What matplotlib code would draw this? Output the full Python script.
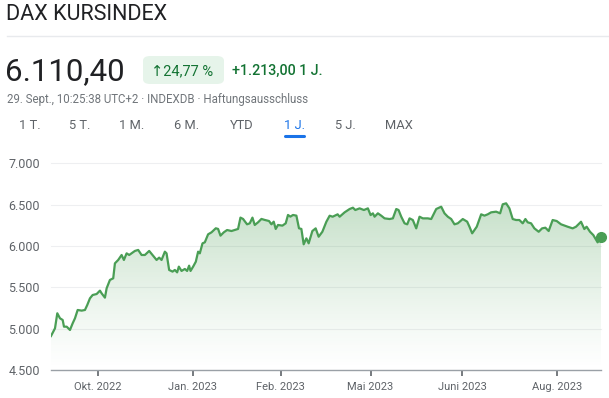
import matplotlib.pyplot as plt
import numpy as np
from matplotlib.patches import FancyBboxPatch

plt.rcParams['font.family'] = ['Roboto', 'DejaVu Sans']

# Zeitachse (0 = Start, 551 = letzter Kurs) und Kurswerte
t = [0, 4, 6.3, 9, 11.7, 13, 15.7, 19, 21.7, 24, 26.7, 30.7, 34, 36.3, 39, 41.7,
     45.7, 49, 50.7, 54, 55.7, 59, 62.3, 64, 67.3, 70.7, 73, 75.7, 78.3, 80.7,
     84, 87.3, 90.7, 94, 98.3, 103, 105.7, 108.3, 110.7, 114, 115.7, 118.3,
     121.7, 124, 126.3, 128, 130.7, 134, 136.3, 138.3, 139.7, 142.3, 145,
     147.3, 149, 151.7, 154, 157.3, 160.7, 165, 167.3, 169.7, 173, 176.3,
     180.7, 184, 187.3, 189.7, 192.3, 196.3, 199, 201.7, 204, 207.3, 210.7,
     214, 218.3, 220.7, 223, 225, 227.3, 231.7, 235, 237.3, 239.7, 242.3,
     245.7, 248.3, 250.7, 253, 255.7, 258, 261.7, 265, 268, 271.7, 275.7,
     279, 282, 287, 289, 294, 299, 302.3, 304.7, 309, 313.3, 317.3, 320,
     322.3, 324, 327.3, 330.7, 334, 339, 342.3, 345.7, 348, 350.7, 354, 356.7,
     359, 362.3, 365.7, 369, 372.3, 377.3, 380.7, 385.7, 390.7, 394, 397.3,
     400.7, 404, 407.3, 412.3, 416.7, 419, 421.7, 426.3, 430.7, 434, 437.3,
     440.7, 445.7, 449.7, 452.3, 455.7, 459, 462.3, 465.7, 469, 472.3, 475,
     477.3, 480.7, 484, 488.3, 491.7, 495, 498.3, 502.3, 506.3, 510.7, 517.3,
     522.3, 525.7, 530.7, 534, 536.3, 539.7, 543, 547.3, 550.7]
kurs = [4911, 5004, 5186, 5125, 5105, 5024, 5024, 4984, 5065, 5125, 5226, 5218,
        5226, 5286, 5367, 5407, 5419, 5460, 5427, 5375, 5488, 5589, 5609, 5790,
        5831, 5891, 5831, 5911, 5891, 5911, 5940, 5952, 5891, 5891, 5940, 5871,
        5831, 5859, 5831, 5931, 5911, 5710, 5690, 5710, 5681, 5750, 5698, 5722,
        5698, 5762, 5698, 5750, 5810, 5931, 5911, 6032, 6044, 6141, 6165, 6214,
        6206, 6125, 6165, 6193, 6181, 6193, 6206, 6343, 6327, 6262, 6274, 6343,
        6254, 6286, 6327, 6315, 6302, 6262, 6294, 6206, 6254, 6246, 6274, 6375,
        6355, 6375, 6367, 6214, 6206, 6020, 6092, 6032, 6181, 6213, 6112, 6172,
        6293, 6366, 6354, 6383, 6354, 6407, 6447, 6463, 6435, 6455, 6435, 6455,
        6374, 6395, 6354, 6395, 6366, 6334, 6326, 6334, 6447, 6435, 6354, 6274,
        6262, 6334, 6314, 6213, 6354, 6334, 6334, 6326, 6447, 6475, 6395, 6354,
        6326, 6262, 6274, 6326, 6294, 6233, 6153, 6233, 6383, 6367, 6383, 6407,
        6415, 6395, 6504, 6516, 6455, 6326, 6314, 6314, 6274, 6326, 6286, 6274,
        6213, 6172, 6213, 6221, 6181, 6314, 6302, 6262, 6233, 6213, 6233, 6293,
        6205, 6233, 6172, 6132, 6044, 6110]

tick_pos = [47, 142, 230, 320, 412, 507]
tick_labels = ['Okt. 2022', 'Jan. 2023', 'Feb. 2023', 'Mai 2023', 'Juni 2023', 'Aug. 2023']
y_ticks = [4500, 5000, 5500, 6000, 6500, 7000]
tabs = ['1 T.', '5 T.', '1 M.', '6 M.', 'YTD', '1 J.', '5 J.', 'MAX']

W, H = 609, 398
fig = plt.figure(figsize=(W / 100, H / 100), dpi=100)
fig.patch.set_facecolor('white')

def fx(px):
    return px / W

def fy(py):
    return 1 - py / H

# Kopfbereich
fig.text(fx(6), fy(15), 'DAX KURSINDEX', fontsize=15.5, color='#202124', va='center')
fig.add_artist(plt.Line2D([fx(7), 1], [fy(36), fy(36)], color='#e8eaed', lw=1))
fig.text(fx(5), fy(72), '6.110,40', fontsize=22.5, color='#202124', va='center')
fig.add_artist(FancyBboxPatch((fx(143), fy(84)), fx(81), 28 / H,
                              boxstyle='round,pad=0,rounding_size=0.012',
                              fc='#e6f4ea', ec='none', transform=fig.transFigure))
fig.text(fx(151), fy(71), '↑24,77 %', fontsize=10.5, color='#137333', va='center')
fig.text(fx(232), fy(71), '+1.213,00 1 J.', fontsize=10.3, color='#137333',
         va='center', fontweight='medium')
fig.text(fx(7), fy(100), '29. Sept., 10:25:38 UTC+2 · INDEXDB · Haftungsausschluss',
         fontsize=8.3, color='#70757a', va='center')

tab_x = [30, 80, 132, 187, 242, 294, 345, 399]
for lbl, x in zip(tabs, tab_x):
    col = '#1a73e8' if lbl == '1 J.' else '#5f6368'
    fig.text(fx(x), fy(126), lbl, fontsize=9.3, color=col, va='center', ha='center')
fig.add_artist(plt.Line2D([fx(285), fx(304)], [fy(135.5), fy(135.5)],
                          color='#1a73e8', lw=2.2, solid_capstyle='round'))

# Diagramm
ax = fig.add_axes([fx(51), fy(370), fx(550), (370 - 163.3) / H])
ax.set_xlim(0, 550.7)
ax.set_ylim(4500, 7000)
for s in ['top', 'right', 'left']:
    ax.spines[s].set_visible(False)
ax.spines['bottom'].set_color('#9aa0a6')
ax.spines['bottom'].set_linewidth(1)

for y in y_ticks[1:]:
    ax.axhline(y, color='#eeeff1', lw=0.8, zorder=0, clip_on=False)

# Verlaufsfüllung unter der Linie
grad = np.linspace(0, 1, 256).reshape(-1, 1)
green = np.array([0.30, 0.62, 0.34])
img = np.zeros((256, 1, 4))
img[:, :, :3] = green
img[:, :, 3] = 0.32 * grad ** 1.2
im = ax.imshow(img, extent=[0, 550.7, 4500, 6520], origin='lower',
               aspect='auto', zorder=1)
poly = ax.fill_between(t, kurs, 4500, color='none')
im.set_clip_path(poly.get_paths()[0], transform=ax.transData)

ax.plot(t, kurs, color='#4a9e55', lw=1.6, zorder=3, solid_joinstyle='round')
ax.plot(t[-1], kurs[-1], 'o', color='#4a9e55', ms=7, zorder=4, clip_on=False)

ax.set_yticks(y_ticks)
ax.set_yticklabels([f'{v:,}'.replace(',', '.') for v in y_ticks])
ax.tick_params(axis='y', length=0, pad=8, labelsize=9, labelcolor='#5f6368')
ax.set_xticks(tick_pos)
ax.set_xticklabels(tick_labels)
ax.tick_params(axis='x', length=4, width=1.2, color='#5f6368', pad=5,
               labelsize=8, labelcolor='#5f6368')

fig.savefig('out.png', dpi=100)
